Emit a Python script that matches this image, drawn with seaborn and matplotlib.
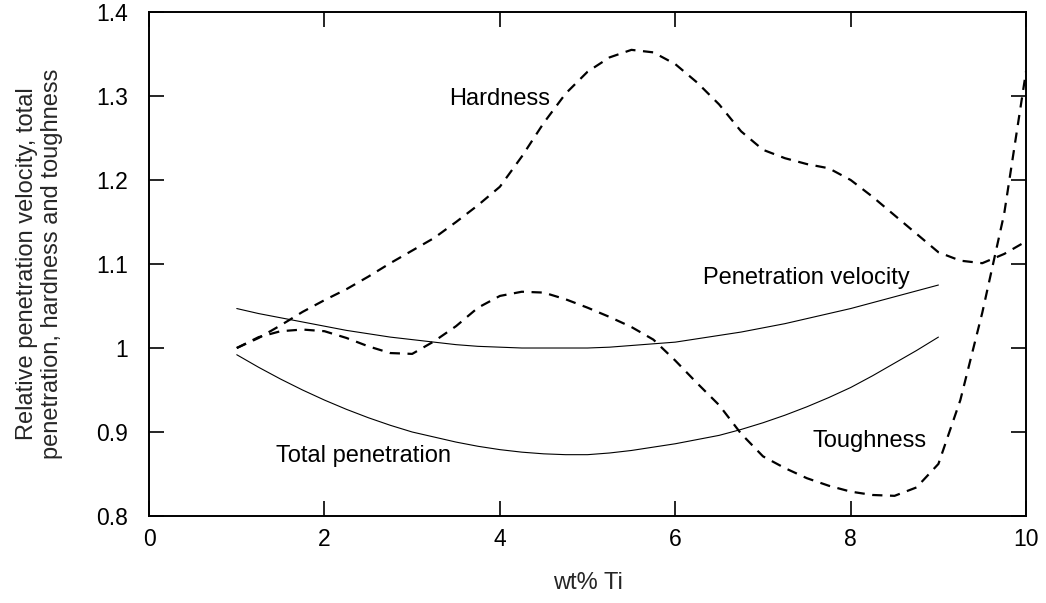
import matplotlib
matplotlib.use("Agg")
import matplotlib.pyplot as plt
import seaborn as sns

# Hardness (dashed, upper curve)
hard_x = [1.0, 1.25, 1.5, 1.75, 2.0, 2.25, 2.5, 2.75, 3.0, 3.25, 3.5, 3.75, 4.0,
          4.25, 4.5, 4.75, 5.0, 5.25, 5.5, 5.75, 6.0, 6.25, 6.5, 6.75, 7.0, 7.25,
          7.5, 7.75, 8.0, 8.25, 8.5, 8.75, 9.0, 9.25, 9.5, 9.75, 10.0]
hard_y = [1.000, 1.012, 1.027, 1.043, 1.057, 1.070, 1.085, 1.101, 1.116, 1.131,
          1.150, 1.170, 1.192, 1.228, 1.268, 1.303, 1.329, 1.346, 1.355, 1.352,
          1.338, 1.316, 1.290, 1.258, 1.236, 1.226, 1.219, 1.214, 1.200, 1.180,
          1.158, 1.136, 1.114, 1.104, 1.101, 1.112, 1.127]

# Toughness (dashed, lower curve)
tough_x = [1.0, 1.25, 1.5, 1.75, 2.0, 2.25, 2.5, 2.75, 3.0, 3.25, 3.5, 3.75, 4.0,
           4.25, 4.5, 4.75, 5.0, 5.25, 5.5, 5.75, 6.0, 6.25, 6.5, 6.75, 7.0, 7.25,
           7.5, 7.75, 8.0, 8.25, 8.5, 8.75, 9.0, 9.25, 9.5, 9.75, 10.0]
tough_y = [1.000, 1.013, 1.020, 1.022, 1.020, 1.012, 1.002, 0.994, 0.993, 1.008,
           1.026, 1.048, 1.062, 1.067, 1.066, 1.058, 1.048, 1.037, 1.025, 1.010,
           0.985, 0.958, 0.932, 0.898, 0.871, 0.857, 0.845, 0.836, 0.829, 0.825,
           0.824, 0.834, 0.862, 0.938, 1.042, 1.160, 1.330]

# Penetration velocity (solid)
vel_x = [1.0, 1.25, 1.5, 1.75, 2.0, 2.25, 2.5, 2.75, 3.0, 3.25, 3.5, 3.75, 4.0,
         4.25, 4.5, 4.75, 5.0, 5.25, 5.5, 5.75, 6.0, 6.25, 6.5, 6.75, 7.0, 7.25,
         7.5, 7.75, 8.0, 8.25, 8.5, 8.75, 9.0]
vel_y = [1.047, 1.041, 1.036, 1.031, 1.026, 1.021, 1.017, 1.013, 1.010, 1.007,
         1.004, 1.002, 1.001, 1.000, 1.000, 1.000, 1.000, 1.001, 1.003, 1.005,
         1.007, 1.011, 1.015, 1.019, 1.024, 1.029, 1.035, 1.041, 1.047, 1.054,
         1.061, 1.068, 1.075]

# Total penetration (solid)
tot_x = [1.0, 1.25, 1.5, 1.75, 2.0, 2.25, 2.5, 2.75, 3.0, 3.25, 3.5, 3.75, 4.0,
         4.25, 4.5, 4.75, 5.0, 5.25, 5.5, 5.75, 6.0, 6.25, 6.5, 6.75, 7.0, 7.25,
         7.5, 7.75, 8.0, 8.25, 8.5, 8.75, 9.0]
tot_y = [0.992, 0.977, 0.963, 0.950, 0.938, 0.927, 0.917, 0.908, 0.900, 0.894,
         0.888, 0.883, 0.879, 0.876, 0.874, 0.873, 0.873, 0.875, 0.878, 0.882,
         0.886, 0.891, 0.896, 0.903, 0.911, 0.920, 0.930, 0.941, 0.953, 0.967,
         0.982, 0.997, 1.013]

x_ticks = [0, 2, 4, 6, 8, 10]
y_ticks = [0.8, 0.9, 1.0, 1.1, 1.2, 1.3, 1.4]
y_tick_labels = ["0.8", "0.9", "1", "1.1", "1.2", "1.3", "1.4"]

curve_labels = ["Hardness", "Penetration velocity", "Total penetration", "Toughness"]
label_x = [3.42, 6.32, 1.45, 7.57]
label_y = [1.297, 1.083, 0.871, 0.889]

sns.set_theme(style="ticks")
plt.rcParams["font.family"] = ["Liberation Sans", "DejaVu Sans"]

fig, ax = plt.subplots(figsize=(10.46, 6.03), dpi=100)
fig.subplots_adjust(left=0.1425, right=0.981, top=0.980, bottom=0.1443)

dash = (0, (4.6, 3.4))
sns.lineplot(x=hard_x, y=hard_y, ax=ax, color="black", linewidth=1.6,
             linestyle=dash, sort=False, estimator=None)
sns.lineplot(x=tough_x, y=tough_y, ax=ax, color="black", linewidth=1.6,
             linestyle=dash, sort=False, estimator=None)
sns.lineplot(x=vel_x, y=vel_y, ax=ax, color="black", linewidth=0.8,
             sort=False, estimator=None)
sns.lineplot(x=tot_x, y=tot_y, ax=ax, color="black", linewidth=0.8,
             sort=False, estimator=None)

for txt, tx, ty in zip(curve_labels, label_x, label_y):
    ax.text(tx, ty, txt, fontsize=17, ha="left", va="center", color="black")

ax.set_xlim(0, 10)
ax.set_ylim(0.8, 1.4)
ax.set_xticks(x_ticks)
ax.set_xticklabels([str(v) for v in x_ticks])
ax.set_yticks(y_ticks)
ax.set_yticklabels(y_tick_labels)

for sp in ax.spines.values():
    sp.set_visible(True)
    sp.set_linewidth(1.4)
    sp.set_color("black")

ax.tick_params(direction="in", length=10.5, width=1.2, top=True, right=True,
               labelsize=16.5, colors="black")
ax.tick_params(axis="x", pad=9)
ax.tick_params(axis="y", pad=15)

ax.set_xlabel("wt% Ti", fontsize=17, labelpad=15)
ax.set_ylabel("Relative penetration velocity, total\npenetration, hardness and toughness",
              fontsize=17, labelpad=24)

fig.savefig("out.png", dpi=100)
